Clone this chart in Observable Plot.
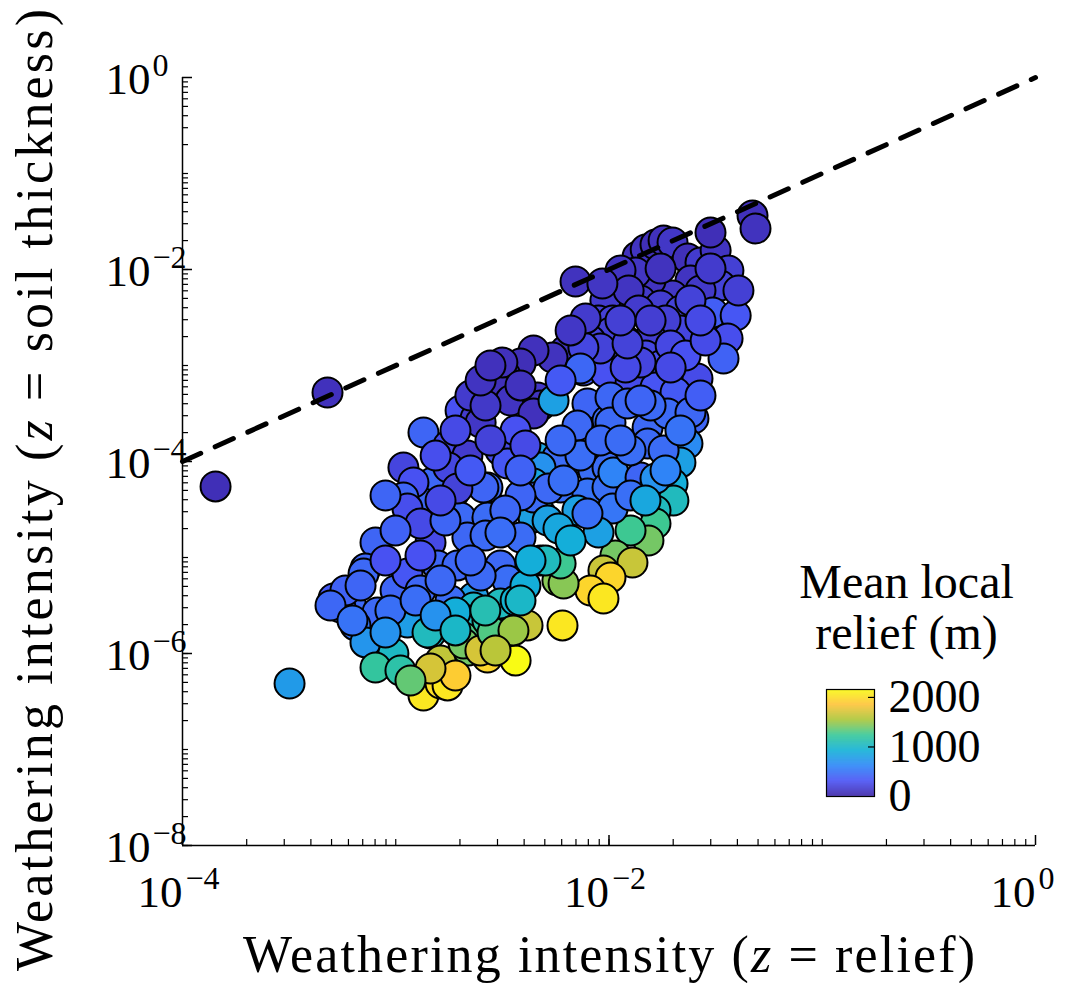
<!DOCTYPE html>
<html><head><meta charset="utf-8">
<script src="https://cdn.jsdelivr.net/npm/d3@7"></script>
<script src="https://cdn.jsdelivr.net/npm/@observablehq/plot@0.6"></script>
<style>
body{margin:0;background:#fff;}
#wrap{position:relative;width:1073px;height:983px;overflow:hidden;}
#cbar{position:absolute;left:770px;top:560px;}
</style></head><body><div id="wrap"></div>
<script>
// log10 of weathering intensity (z = relief)
const logX = [-3.845,-3.320,-3.498,-2.157,-1.866,-1.828,-1.782,-1.744,-1.702,-1.631,-1.571,-1.500,-1.524,-1.327,-1.313,-1.440,-1.477,-1.618,-1.702,-1.805,-1.875,-1.946,-1.955,-2.017,-2.049,-1.983,-1.852,-1.758,-1.664,-1.908,-1.758,-1.571,-1.514,-1.406,-1.444,-1.463,-1.585,-1.664,-1.735,-1.805,-1.861,-1.922,-1.993,-2.049,-2.120,-2.087,-2.157,-2.204,-2.265,-2.354,-2.415,-2.486,-2.518,-2.500,-2.462,-2.335,-2.321,-2.354,-1.828,-1.758,-1.711,-1.641,-1.547,-1.946,-2.017,-1.899,-1.782,-1.688,-1.852,-2.040,-2.120,-2.134,-2.260,-2.335,-2.101,-2.007,-1.993,-2.148,-2.148,-2.242,-2.321,-2.073,-2.007,-2.354,-2.227,-2.101,-2.007,-2.148,-2.321,-2.570,-2.729,-2.696,-2.570,-2.828,-2.870,-2.696,-2.626,-2.602,-2.650,-2.870,-2.753,-2.664,-2.753,-2.509,-2.964,-2.917,-2.476,-2.589,-2.711,-2.964,-2.945,-3.095,-3.142,-3.292,-3.212,-3.086,-3.001,-2.945,-2.837,-2.804,-2.711,-2.664,-2.579,-2.509,-3.259,-3.151,-3.236,-3.189,-2.884,-2.767,-3.048,-2.635,-2.743,-2.931,-2.837,-3.142,-3.011,-3.095,-2.978,-2.790,-2.870,-2.790,-2.757,-2.635,-2.659,-2.682,-2.659,-2.570,-2.495,-2.438,-2.382,-2.570,-2.354,-2.321,-2.242,-2.218,-2.476,-2.415,-2.354,-2.284,-2.509,-2.682,-2.945,-2.851,-2.720,-2.603,-2.546,-2.720,-2.438,-2.392,-2.448,-1.604,-1.632,-1.665,-1.702,-1.698,-1.782,-1.782,-1.815,-1.899,-1.970,-1.890,-2.026,-1.993,-2.087,-2.026,-2.213,-2.227,-2.298,-1.979,-1.852,-1.983,-2.049,-2.101,-2.134,-2.213,-2.288,-2.237,-1.993,-1.819,-1.819,-1.725,-1.913,-1.805,-1.618,-1.922,-1.913,-1.711,-1.744,-1.899,-2.040,-1.782,-2.110,-2.180,-2.031,-1.393,-1.524,-2.438,-2.392,-2.556,-2.415,-2.486,-2.650,-2.415,-2.579,-3.025,-2.884,-3.048,
  -2.790,-2.602,-2.649,-2.884,-3.001,-2.790,-3.048,-3.165,-3.306,-3.203,-2.907,-2.813,-2.720,-2.580,-2.532,-2.837,-2.931,-2.415,-2.368,-2.415,-2.227,-1.946,-1.852,-1.571,-1.618,-1.571,-1.946,-1.805,-2.227,-2.602,-2.556,-2.720,-2.813,-1.665,-1.735,-1.899,-1.829,-2.180,-2.509];
// log10 of weathering intensity (z = soil thickness)
const logY = [-4.260,-3.281,-6.313,-2.125,-1.865,-1.792,-1.740,-1.698,-1.719,-1.885,-1.927,-1.802,-1.615,-1.438,-1.573,-2.010,-2.167,-2.115,-2.271,-2.115,-2.031,-2.010,-2.323,-2.323,-2.531,-2.531,-2.323,-2.375,-2.427,-2.219,-1.990,-2.219,-2.448,-2.479,-2.719,-2.927,-3.135,-2.635,-2.531,-2.708,-2.427,-2.740,-2.656,-2.823,-3.052,-2.740,-2.688,-2.844,-2.917,-2.844,-2.979,-3.104,-3.240,-2.969,-3.365,-3.333,-3.417,-3.500,-2.896,-3.000,-2.792,-2.896,-2.740,-3.000,-3.073,-3.177,-3.229,-3.281,-2.969,-2.823,-2.813,-3.031,-3.365,-3.958,-3.396,-3.573,-3.333,-3.625,-3.958,-3.958,-4.063,-4.094,-4.063,-4.229,-4.271,-4.333,-4.271,-4.510,-4.542,-4.271,-4.333,-4.583,-4.583,-4.219,-4.438,-3.469,-3.552,-3.594,-3.313,-3.698,-3.833,-3.938,-4.063,-3.885,-4.063,-4.219,-4.021,-4.271,-4.281,-4.375,-4.490,-4.844,-5.115,-5.427,-5.479,-5.573,-5.344,-5.167,-4.844,-5.083,-5.083,-4.792,-4.771,-5.083,-5.521,-5.167,-5.344,-5.708,-4.646,-4.615,-5.031,-5.417,-5.448,-5.656,-5.792,-5.885,-6.000,-6.146,-6.177,-6.073,-6.438,-6.313,-6.333,-5.521,-5.656,-5.833,-5.969,-5.656,-5.865,-6.073,-5.708,-6.042,-4.583,-5.031,-5.240,-5.708,-5.240,-4.792,-4.375,-4.281,-5.479,-5.896,-5.677,-5.781,-6.229,-5.969,-5.781,-5.573,-5.448,-5.292,-5.760,-3.552,-3.813,-4.010,-4.229,-4.406,-4.510,-4.646,-4.823,-4.719,-4.979,-5.052,-5.135,-5.208,-5.344,-5.427,-5.271,-5.063,-5.031,-4.115,-4.167,-4.490,-4.740,-4.542,-3.938,-4.198,-4.615,-4.698,-3.594,-3.646,-3.813,-3.500,-3.396,-3.417,-3.490,-3.021,-2.771,-3.021,-3.885,-3.885,-3.781,-4.177,-2.510,-2.635,-2.146,-2.219,-1.990,-3.677,-3.833,-3.781,-4.354,-4.510,-4.094,-3.208,-3.417,-5.552,-5.344,-5.781,
  -5.240,-5.188,-5.031,-4.979,-4.719,-4.406,-4.354,-5.292,-5.500,-5.656,-5.448,-5.604,-5.760,-5.552,-5.969,-6.156,-6.281,-5.448,-5.031,-4.094,-3.781,-3.781,-3.365,-3.313,-2.323,-2.531,-2.531,-2.531,-3.156,-3.156,-3.000,-3.677,-3.938,-3.677,-4.094,-4.354,-4.406,-4.823,-4.740];
// mean local relief (m)
const relief = [60,80,760,90,80,100,60,80,120,70,150,100,60,80,90,180,200,100,120,90,110,100,120,150,200,180,140,160,200,100,90,130,380,330,280,400,260,220,180,170,150,200,180,250,380,200,150,100,90,80,60,90,70,80,100,120,100,80,230,280,240,300,260,240,300,260,320,350,220,200,230,430,800,820,420,450,430,440,480,460,700,470,460,830,480,500,480,800,1000,450,250,450,460,430,430,300,150,120,150,420,250,150,230,250,220,300,330,420,200,420,280,420,430,350,440,440,420,330,250,420,430,430,450,440,430,440,400,520,250,420,300,780,460,760,1020,720,1020,1200,1150,1620,2050,2000,2050,1000,1050,1300,1400,1150,1850,2160,1650,1950,800,1050,1450,2050,470,460,450,440,1050,1400,780,1050,1900,1700,1300,900,950,900,1500,420,650,800,900,1050,1050,1250,1400,1250,1400,1650,1650,1950,1950,2050,1450,1250,1050,600,420,520,800,480,470,480,800,850,450,440,450,450,430,450,430,250,200,250,460,470,450,700,150,120,110,180,150,300,250,200,420,430,350,90,130,480,430,700,
  440,450,430,300,400,250,420,420,430,500,470,700,1000,1100,1600,1700,1350,1000,900,400,450,460,420,380,200,250,180,170,350,100,80,250,280,500,600,480,850,900,470];

const xMajor = [1e-4, 1e-2, 1];
const xMajorExp = ["\u22124", "\u22122", "0"];
const yMajor = [1e-8, 1e-6, 1e-4, 1e-2, 1];
const yMajorExp = ["\u22128", "\u22126", "\u22124", "\u22122", "0"];
const cbTicks = [0, 1000, 2000];
const reliefMax = 2160;
const parula = ["#3e26a8","#4852f4","#2d87f7","#12b1d6","#37c897","#abc739","#fec338","#f9fb14"];
const identity = [1e-4, 1];

const points = logX.map((lx, i) => ({x: 10 ** lx, y: 10 ** logY[i], relief: relief[i]}));
function minorTicks(e0, e1) {
  const out = [];
  for (let e = e0; e < e1; e++) for (let k = 1; k <= 9; k++) out.push(k * 10 ** e);
  return out;
}
const xMinor = minorTicks(-4, 0);
const yMinor = minorTicks(-8, 0);

const W = 1073, H = 983, mL = 182, mR = 38, mT = 77, mB = 138;
const innerW = W - mL - mR, innerH = H - mT - mB;
const font = "'Liberation Serif', 'Times New Roman', serif";
const colorScale = {type: "linear", domain: parula.map((_, i) => i * reliefMax / (parula.length - 1)), range: parula, clamp: true};

const chart = Plot.plot({
  width: W, height: H, marginLeft: mL, marginRight: mR, marginTop: mT, marginBottom: mB,
  style: {fontFamily: font, background: "white", color: "black", overflow: "visible"},
  x: {type: "log", domain: [1e-4, 1], axis: null},
  y: {type: "log", domain: [1e-8, 1], axis: null},
  color: colorScale,
  marks: [
    Plot.dot(points, {x: "x", y: "y", r: 15, fill: "relief", stroke: "black", strokeWidth: 2}),
    Plot.line(identity, {x: d => d, y: d => d, stroke: "black", strokeWidth: 5, strokeDasharray: "20,15.8"}),
    Plot.ruleX([1e-4], {stroke: "black", strokeWidth: 1.5}),
    Plot.ruleY([1e-8], {stroke: "black", strokeWidth: 1.5}),
    Plot.tickX(xMinor, {x: d => d, insetTop: innerH - 6, stroke: "black", strokeWidth: 1.2}),
    Plot.tickX(xMajor, {x: d => d, insetTop: innerH - 10, stroke: "black", strokeWidth: 1.5}),
    Plot.tickY(yMinor, {y: d => d, insetRight: innerW - 6, stroke: "black", strokeWidth: 1.2}),
    Plot.tickY(yMajor, {y: d => d, insetRight: innerW - 10, stroke: "black", strokeWidth: 1.5}),
    Plot.text(xMajor, {x: d => d, frameAnchor: "bottom", text: () => "10", textAnchor: "end", lineAnchor: "middle", dy: 47, fontSize: 45}),
    Plot.text(xMajor, {x: d => d, frameAnchor: "bottom", text: (d, i) => xMajorExp[i], textAnchor: "start", lineAnchor: "middle", dx: 3, dy: 33, fontSize: 32}),
    Plot.text(yMajor, {y: d => d, frameAnchor: "left", text: () => "10", textAnchor: "end", lineAnchor: "middle", dx: -32, dy: 2, fontSize: 45}),
    Plot.text(yMajor, {y: d => d, frameAnchor: "left", text: (d, i) => yMajorExp[i], textAnchor: "start", lineAnchor: "middle", dx: -30, dy: -12, fontSize: 32})
  ]
});

const svg = d3.select(chart);
function title(sel, parts) {
  parts.forEach(([t, it]) => { const s = sel.append("tspan").text(t); if (it) s.attr("font-style", "italic"); });
}
const xt = svg.append("text").attr("x", 609).attr("y", 972).attr("text-anchor", "middle")
  .attr("font-size", 52).attr("font-family", font).attr("fill", "black")
  .attr("textLength", 732).attr("lengthAdjust", "spacing");
title(xt, [["Weathering intensity (", false], ["z", true], [" = relief)", false]]);
const yt = svg.append("text").attr("transform", "translate(52,490) rotate(-90)").attr("text-anchor", "middle")
  .attr("font-size", 52).attr("font-family", font).attr("fill", "black")
  .attr("textLength", 962).attr("lengthAdjust", "spacing");
title(yt, [["Weathering intensity (", false], ["z", true], [" = soil thickness)", false]]);

const step = 10;
const steps = d3.range(0, reliefMax, step);
const cb = Plot.plot({
  width: 280, height: 260, marginLeft: 56, marginRight: 176, marginTop: 129, marginBottom: 24,
  style: {fontFamily: font, background: "transparent", color: "black", overflow: "visible"},
  x: {domain: [0, 1], axis: null},
  y: {domain: [0, reliefMax], axis: null},
  color: colorScale,
  marks: [
    Plot.rect(steps, {x1: 0, x2: 1, y1: d => d, y2: d => Math.min(d + step * 1.5, reliefMax), fill: d => d + step / 2}),
    Plot.frame({stroke: "black", strokeWidth: 1.2}),
    Plot.tickY(cbTicks.slice(1), {y: d => d, insetLeft: 42, stroke: "black", strokeWidth: 1.2}),
    Plot.text(cbTicks, {y: d => d, frameAnchor: "right", dx: 14, textAnchor: "start", lineAnchor: "middle", text: d => String(d), fontSize: 46}),
    Plot.text(["Mean local"], {frameAnchor: "top", dx: 56, dy: -92, lineAnchor: "bottom", text: d => d, fontSize: 48}),
    Plot.text(["relief (m)"], {frameAnchor: "top", dx: 56, dy: -41, lineAnchor: "bottom", text: d => d, fontSize: 48})
  ]
});
cb.id = "cbar";
const wrap = document.getElementById("wrap");
wrap.appendChild(chart);
wrap.appendChild(cb);
</script></body></html>
